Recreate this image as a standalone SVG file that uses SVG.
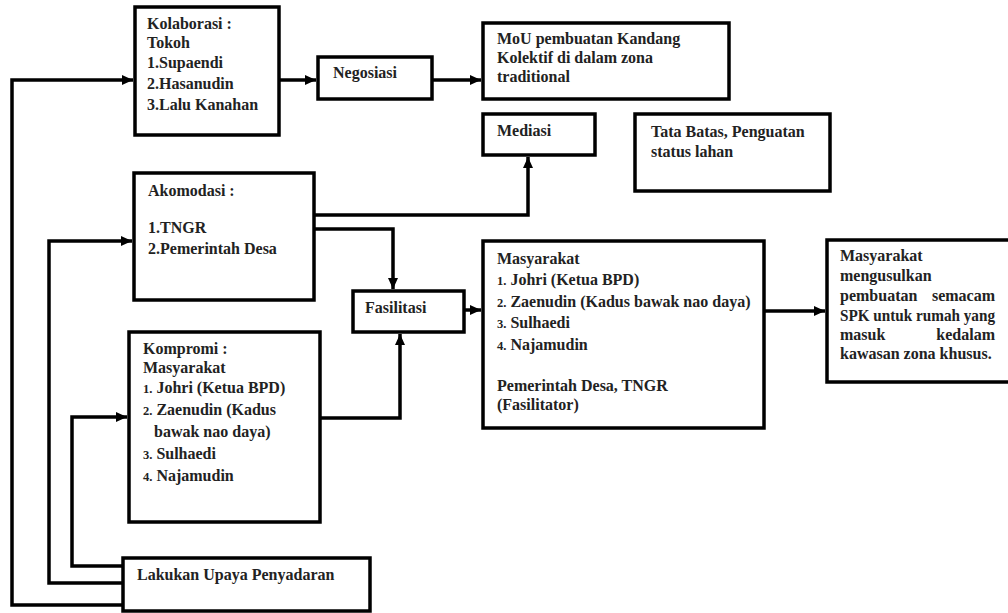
<svg xmlns="http://www.w3.org/2000/svg" width="1008" height="613" viewBox="0 0 1008 613">
<style>
.box{fill:#fff;stroke:#000;stroke-width:3.5}
.t{font-family:"Liberation Serif","Times New Roman",serif;font-weight:bold;font-size:16px;fill:#222}
.n{font-size:12.5px}
.c{fill:none;stroke:#000;stroke-width:3.5;stroke-linejoin:miter}
</style>
<defs>
<marker id="ah" markerUnits="userSpaceOnUse" markerWidth="12" markerHeight="12" viewBox="0 0 12 12" refX="11" refY="6" orient="auto">
<path d="M0,1 L11,6 L0,11 Z" fill="#000"/>
</marker>
</defs>
<rect width="1008" height="613" fill="#fff"/>
<g id="connectors">
<path class="c" d="M123,605 H12 V80 H133" marker-end="url(#ah)"/>
<path class="c" d="M123,583 H49 V241 H132" marker-end="url(#ah)"/>
<path class="c" d="M123,566 H72 V417 H127" marker-end="url(#ah)"/>
<path class="c" d="M280,80 H316" marker-end="url(#ah)"/>
<path class="c" d="M432,80 H481" marker-end="url(#ah)"/>
<path class="c" d="M314,215 H528 V157" marker-end="url(#ah)"/>
<path class="c" d="M314,229 H393 V289" marker-end="url(#ah)"/>
<path class="c" d="M320,418 H400 V334" marker-end="url(#ah)"/>
<path class="c" d="M464,310 H481" marker-end="url(#ah)"/>
<path class="c" d="M764,311 H825" marker-end="url(#ah)"/>
</g>
<g id="kolaborasi">
<rect class="box" x="135" y="7" width="144" height="128"/>
<text class="t" x="147" y="29">Kolaborasi :</text>
<text class="t" x="147" y="48">Tokoh</text>
<text class="t" x="147" y="68">1.Supaendi</text>
<text class="t" x="147" y="89">2.Hasanudin</text>
<text class="t" x="147" y="110">3.Lalu Kanahan</text>
</g>
<g id="negosiasi">
<rect class="box" x="318" y="57" width="114" height="42"/>
<text class="t" x="333" y="78">Negosiasi</text>
</g>
<g id="mou">
<rect class="box" x="483" y="23" width="246" height="76"/>
<text class="t" x="497" y="44">MoU pembuatan Kandang</text>
<text class="t" x="497" y="63">Kolektif di dalam zona</text>
<text class="t" x="497" y="82">traditional</text>
</g>
<g id="mediasi">
<rect class="box" x="483" y="114" width="112" height="41"/>
<text class="t" x="497" y="136">Mediasi</text>
</g>
<g id="tatabatas">
<rect class="box" x="635" y="114" width="195" height="77"/>
<text class="t" x="651" y="137">Tata Batas, Penguatan</text>
<text class="t" x="651" y="157">status lahan</text>
</g>
<g id="akomodasi">
<rect class="box" x="134" y="173" width="180" height="127"/>
<text class="t" x="148" y="196">Akomodasi :</text>
<text class="t" x="148" y="233">1.TNGR</text>
<text class="t" x="148" y="254">2.Pemerintah Desa</text>
</g>
<g id="fasilitasi">
<rect class="box" x="353" y="291" width="111" height="41"/>
<text class="t" x="365" y="313">Fasilitasi</text>
</g>
<g id="masyarakat">
<rect class="box" x="483" y="241" width="281" height="187"/>
<text class="t" x="497" y="264">Masyarakat</text>
<text class="t" x="497" y="285"><tspan class="n">1.</tspan> Johri (Ketua BPD)</text>
<text class="t" x="497" y="307"><tspan class="n">2.</tspan> Zaenudin  (Kadus bawak nao daya)</text>
<text class="t" x="497" y="328"><tspan class="n">3.</tspan> Sulhaedi</text>
<text class="t" x="497" y="350"><tspan class="n">4.</tspan> Najamudin</text>
<text class="t" x="497" y="391">Pemerintah Desa, TNGR</text>
<text class="t" x="497" y="410">(Fasilitator)</text>
</g>
<g id="usulan">
<rect class="box" x="827" y="240" width="190" height="142"/>
<text class="t" x="840" y="261">Masyarakat</text>
<text class="t" x="840" y="281">mengusulkan</text>
<text class="t" x="840" y="301">pembuatan</text>
<text class="t" x="995" y="301" text-anchor="end">semacam</text>
<text class="t" x="840" y="321" textLength="155" lengthAdjust="spacingAndGlyphs">SPK untuk rumah yang</text>
<text class="t" x="840" y="340">masuk</text>
<text class="t" x="995" y="340" text-anchor="end">kedalam</text>
<text class="t" x="840" y="359">kawasan zona khusus.</text>
</g>
<g id="kompromi">
<rect class="box" x="129" y="332" width="191" height="190"/>
<text class="t" x="143" y="354">Kompromi :</text>
<text class="t" x="143" y="373">Masyarakat</text>
<text class="t" x="143" y="393"><tspan class="n">1.</tspan> Johri (Ketua BPD)</text>
<text class="t" x="143" y="415"><tspan class="n">2.</tspan> Zaenudin  (Kadus</text>
<text class="t" x="154" y="437">bawak nao daya)</text>
<text class="t" x="143" y="459"><tspan class="n">3.</tspan> Sulhaedi</text>
<text class="t" x="143" y="481"><tspan class="n">4.</tspan> Najamudin</text>
</g>
<g id="penyadaran">
<rect class="box" x="123" y="558" width="247" height="53"/>
<text class="t" x="137" y="580">Lakukan Upaya Penyadaran</text>
</g>
</svg>
